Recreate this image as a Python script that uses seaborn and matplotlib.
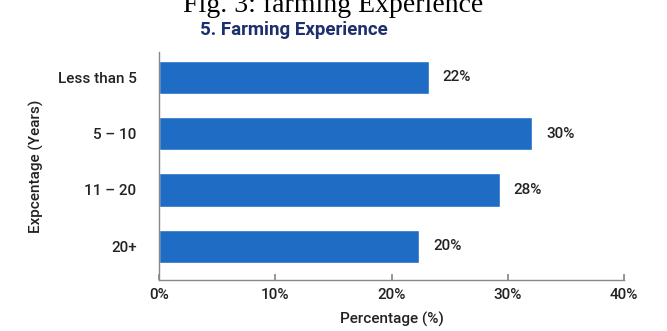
import matplotlib.pyplot as plt
import seaborn as sns
import pandas as pd

# data
groups = ['Less than 5', '5 – 10', '11 – 20', '20+']
bar_values = [23.2, 32.1, 29.3, 22.4]   # bar lengths as drawn
bar_labels = ['22%', '30%', '28%', '20%']  # printed labels
x_ticks = [0, 10, 20, 30, 40]

df = pd.DataFrame({'group': groups, 'value': bar_values})

sns.set_theme(style='white')
plt.rcParams['font.family'] = ['Roboto', 'DejaVu Sans']
plt.rcParams['font.weight'] = 'medium'

fig = plt.figure(figsize=(6.67, 3.31), dpi=100)
ax = fig.add_axes([0.238, 0.154, 0.698, 0.689])

sns.barplot(data=df, x='value', y='group', color='#1f6cc4', saturation=1,
            width=0.59, ax=ax)

for i, (v, lab) in enumerate(zip(bar_values, bar_labels)):
    ax.text(v + 1.2, i, lab, va='center', ha='left', fontsize=11,
            color='#222222')

ax.set_xlim(0, 40)
ax.set_ylim(3.6, -0.45)
ax.set_xticks(x_ticks)
ax.set_xticklabels([f'{t}%' for t in x_ticks], fontsize=11, color='#222222')
ax.tick_params(axis='y', labelsize=11, labelcolor='#222222', length=0, pad=16)
ax.tick_params(axis='x', length=4, direction='in', color='#888888', pad=6)
ax.xaxis.set_ticks_position('bottom')

for s in ['top', 'right']:
    ax.spines[s].set_visible(False)
for s in ['left', 'bottom']:
    ax.spines[s].set_color('#888888')
    ax.spines[s].set_linewidth(1.0)

ax.set_xlabel('Percentage (%)', fontsize=11, color='#222222', labelpad=7,
              fontweight='medium')
ax.set_ylabel('Expcentage (Years)', fontsize=11, color='#222222', labelpad=10,
              fontweight='medium')

fig.text(0.5, 0.965, 'Fig. 3: farming Experience', ha='center', va='baseline',
         fontsize=20, family='Liberation Serif', fontweight='normal',
         color='black')
fig.text(0.30, 0.91, '5. Farming Experience', ha='left', va='center',
         fontsize=13.5, fontweight='bold', color='#1e2f6e')

fig.savefig('out.png', dpi=100)
